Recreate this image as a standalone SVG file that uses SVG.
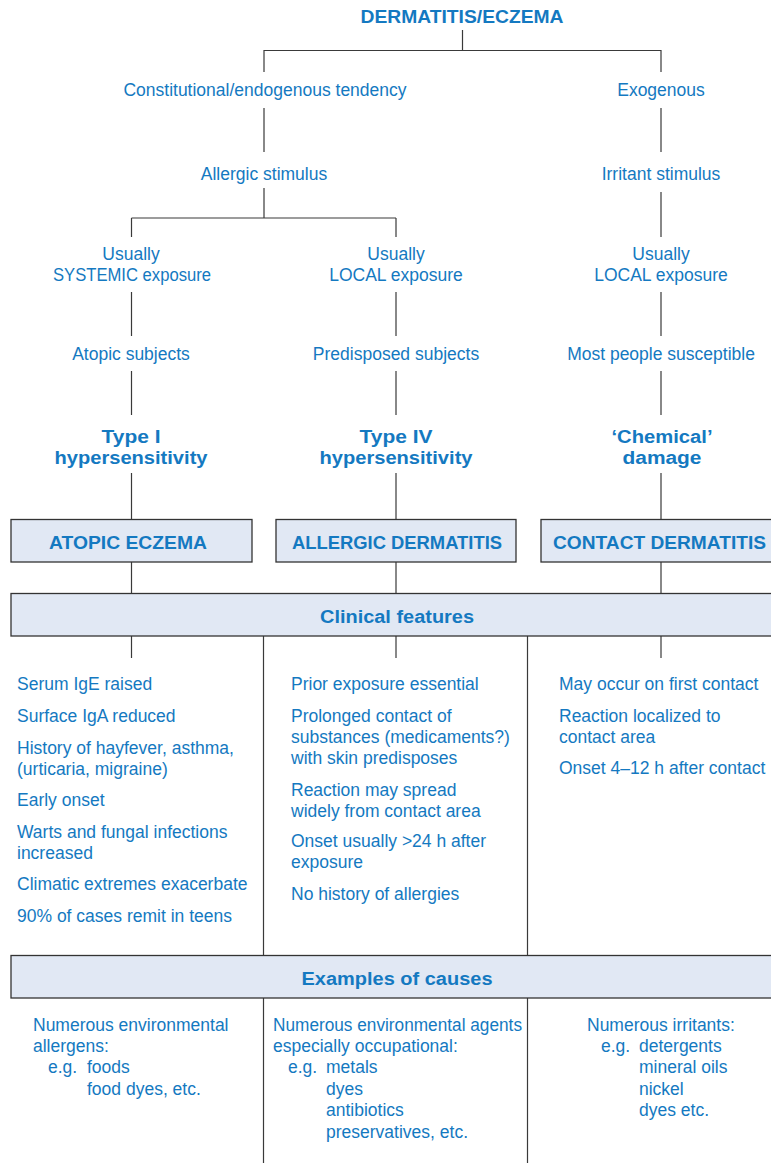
<svg xmlns="http://www.w3.org/2000/svg" width="771" height="1163" viewBox="0 0 771 1163">
  <style>
    text { font-family: "Liberation Sans", Arial, sans-serif; font-size: 17.5px; fill: #1479c1; }
    .c { text-anchor: middle; }
    .b { font-weight: bold; font-size: 18px; }
    .box { fill: #e1e8f4; stroke: #333; stroke-width: 1.3; }
    .ln { fill: none; stroke: #3a3a3a; stroke-width: 1.2; }
  </style>
  <rect width="771" height="1163" fill="#fff"/>

  <!-- connectors -->
  <g id="connectors" class="ln">
    <path d="M462.5 30 V50.5 M264 50.5 H661 M264 50 V72 M661 50 V72"/>
    <path d="M264 108 V152 M661 108 V152"/>
    <path d="M264 188 V218 M131.5 218 H396 M131.5 218 V237 M396 218 V237 M661 192 V237"/>
    <path d="M131.5 292 V336 M396 292 V336 M661 292 V336"/>
    <path d="M131.5 371 V415 M396 371 V415 M661 371 V415"/>
    <path d="M131.5 473 V519 M396 473 V519 M661 473 V519"/>
    <path d="M131.5 562 V593 M396 562 V593 M661 562 V593"/>
    <path d="M131.5 636 V658 M396 636 V658 M661 636 V658"/>
    <path d="M263.5 636 V955 M527.5 636 V955 M263.5 998 V1163 M527.5 998 V1163"/>
  </g>

  <!-- tree nodes -->
  <g id="root"><text class="c b" x="462" y="23" textLength="203" lengthAdjust="spacingAndGlyphs">DERMATITIS/ECZEMA</text></g>
  <g id="constitutional"><text class="c" x="265" y="96">Constitutional/endogenous tendency</text></g>
  <g id="exogenous"><text class="c" x="661" y="96">Exogenous</text></g>
  <g id="allergic-stimulus"><text class="c" x="264" y="180">Allergic stimulus</text></g>
  <g id="irritant-stimulus"><text class="c" x="661" y="180">Irritant stimulus</text></g>

  <g id="systemic-exposure"><text class="c" x="131" y="260">Usually</text><text class="c" x="132" y="281" textLength="158" lengthAdjust="spacingAndGlyphs">SYSTEMIC exposure</text></g>
  <g id="local-exposure-allergic"><text class="c" x="396" y="260">Usually</text><text class="c" x="396" y="281">LOCAL exposure</text></g>
  <g id="local-exposure-irritant"><text class="c" x="661" y="260">Usually</text><text class="c" x="661" y="281">LOCAL exposure</text></g>

  <g id="atopic-subjects"><text class="c" x="131" y="360">Atopic subjects</text></g>
  <g id="predisposed-subjects"><text class="c" x="396" y="360">Predisposed subjects</text></g>
  <g id="most-people"><text class="c" x="661" y="360">Most people susceptible</text></g>

  <g id="type-1"><text class="c b" x="131" y="443" textLength="59" lengthAdjust="spacingAndGlyphs">Type I</text><text class="c b" x="131" y="464" textLength="153" lengthAdjust="spacingAndGlyphs">hypersensitivity</text></g>
  <g id="type-4"><text class="c b" x="396" y="443" textLength="73" lengthAdjust="spacingAndGlyphs">Type IV</text><text class="c b" x="396" y="464" textLength="153" lengthAdjust="spacingAndGlyphs">hypersensitivity</text></g>
  <g id="chemical-damage"><text class="c b" x="662" y="443" textLength="101" lengthAdjust="spacingAndGlyphs">‘Chemical’</text><text class="c b" x="662" y="464" textLength="79" lengthAdjust="spacingAndGlyphs">damage</text></g>

  <!-- condition boxes -->
  <g id="atopic-eczema"><rect class="box" x="11" y="519.5" width="241" height="42.5"/><text class="c b" x="128" y="548.5" textLength="158" lengthAdjust="spacingAndGlyphs">ATOPIC ECZEMA</text></g>
  <g id="allergic-dermatitis"><rect class="box" x="276" y="519.5" width="240" height="42.5"/><text class="c b" x="397" y="548.5" textLength="210" lengthAdjust="spacingAndGlyphs">ALLERGIC DERMATITIS</text></g>
  <g id="contact-dermatitis"><rect class="box" x="541" y="519.5" width="250" height="42.5"/><text class="c b" x="659.5" y="548.5" textLength="213" lengthAdjust="spacingAndGlyphs">CONTACT DERMATITIS</text></g>

  <!-- clinical features -->
  <g id="clinical-features"><rect class="box" x="11" y="593.5" width="780" height="42.5"/><text class="c b" x="397" y="622.5" textLength="154" lengthAdjust="spacingAndGlyphs">Clinical features</text></g>

  <g id="features-atopic">
    <text x="17" y="690">Serum IgE raised</text>
    <text x="17" y="722">Surface IgA reduced</text>
    <text x="17" y="754">History of hayfever, asthma,</text>
    <text x="17" y="775">(urticaria, migraine)</text>
    <text x="17" y="806">Early onset</text>
    <text x="17" y="838">Warts and fungal infections</text>
    <text x="17" y="859">increased</text>
    <text x="17" y="890">Climatic extremes exacerbate</text>
    <text x="17" y="922">90% of cases remit in teens</text>
  </g>
  <g id="features-allergic">
    <text x="291" y="690">Prior exposure essential</text>
    <text x="291" y="722">Prolonged contact of</text>
    <text x="291" y="743">substances (medicaments?)</text>
    <text x="291" y="764">with skin predisposes</text>
    <text x="291" y="796">Reaction may spread</text>
    <text x="291" y="817">widely from contact area</text>
    <text x="291" y="847">Onset usually &gt;24 h after</text>
    <text x="291" y="868">exposure</text>
    <text x="291" y="900">No history of allergies</text>
  </g>
  <g id="features-contact">
    <text x="559" y="690">May occur on first contact</text>
    <text x="559" y="722">Reaction localized to</text>
    <text x="559" y="743">contact area</text>
    <text x="559" y="774">Onset 4–12 h after contact</text>
  </g>

  <!-- examples of causes -->
  <g id="examples-of-causes"><rect class="box" x="11" y="955.5" width="780" height="42.5"/><text class="c b" x="397" y="984.5" textLength="191" lengthAdjust="spacingAndGlyphs">Examples of causes</text></g>

  <g id="causes-atopic">
    <text x="33" y="1031">Numerous environmental</text>
    <text x="33" y="1052">allergens:</text>
    <text x="48" y="1073">e.g.</text><text x="87" y="1073">foods</text>
    <text x="87" y="1095">food dyes, etc.</text>
  </g>
  <g id="causes-allergic">
    <text x="273" y="1031" textLength="249" lengthAdjust="spacingAndGlyphs">Numerous environmental agents</text>
    <text x="273" y="1052">especially occupational:</text>
    <text x="288" y="1073">e.g.</text><text x="326" y="1073">metals</text>
    <text x="326" y="1095">dyes</text>
    <text x="326" y="1116">antibiotics</text>
    <text x="326" y="1138">preservatives, etc.</text>
  </g>
  <g id="causes-contact">
    <text x="587" y="1031">Numerous irritants:</text>
    <text x="601" y="1052">e.g.</text><text x="639" y="1052">detergents</text>
    <text x="639" y="1073">mineral oils</text>
    <text x="639" y="1095">nickel</text>
    <text x="639" y="1116">dyes etc.</text>
  </g>
</svg>
